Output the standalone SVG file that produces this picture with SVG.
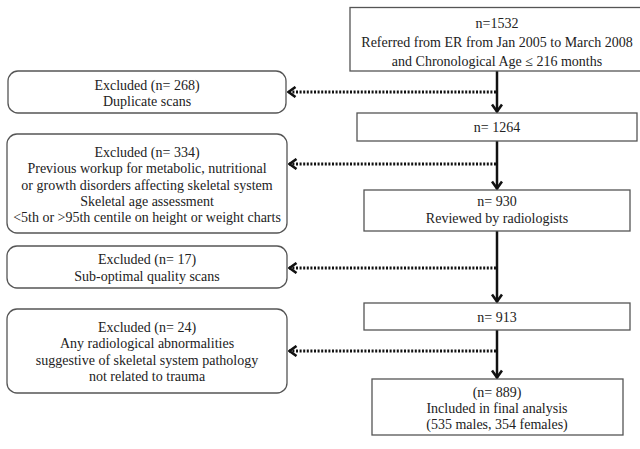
<svg xmlns="http://www.w3.org/2000/svg" width="640" height="449" viewBox="0 0 640 449">
<style>
.box{fill:#fff;stroke:#555;stroke-width:1.3}
.t{font-family:"Liberation Serif","Times New Roman",serif;font-size:14px;fill:#222;text-anchor:middle}
.solid{stroke:#111;stroke-width:2.5;fill:none}
.dot{stroke:#111;stroke-width:3;stroke-dasharray:2 1.6;fill:none}
</style>
<defs>
<marker id="ah" viewBox="0 0 10 12" refX="9" refY="6" markerWidth="10" markerHeight="12" markerUnits="userSpaceOnUse" orient="auto">
<path d="M1.5,1 L8.5,6 L1.5,11" fill="none" stroke="#111" stroke-width="2.6" stroke-dasharray="none"/>
</marker>
</defs>
<rect width="640" height="449" fill="#fff"/>
<g id="connectors">
<line class="solid" x1="497" y1="71" x2="497" y2="112" marker-end="url(#ah)"/>
<line class="solid" x1="497" y1="141" x2="497" y2="189" marker-end="url(#ah)"/>
<line class="solid" x1="497" y1="231" x2="497" y2="302" marker-end="url(#ah)"/>
<line class="solid" x1="497" y1="330" x2="497" y2="378" marker-end="url(#ah)"/>
<line class="dot" x1="496" y1="92" x2="288" y2="92" marker-end="url(#ah)"/>
<line class="dot" x1="496" y1="164" x2="289" y2="164" marker-end="url(#ah)"/>
<line class="dot" x1="496" y1="268" x2="289" y2="268" marker-end="url(#ah)"/>
<line class="dot" x1="496" y1="351" x2="289" y2="351" marker-end="url(#ah)"/>
</g>
<g id="n1532">
<rect class="box" x="350" y="7.5" width="300" height="63.5"/>
<text class="t" x="497" y="27.5">n=1532</text>
<text class="t" x="497" y="46.5">Referred from ER from Jan 2005 to March 2008</text>
<text class="t" x="497" y="66">and Chronological Age ≤ 216 months</text>
</g>
<g id="n1264">
<rect class="box" x="357" y="113" width="280" height="28"/>
<text class="t" x="497" y="131.5">n= 1264</text>
</g>
<g id="n930">
<rect class="box" x="364" y="190" width="266" height="41"/>
<text class="t" x="497" y="206">n= 930</text>
<text class="t" x="497" y="223">Reviewed by radiologists</text>
</g>
<g id="n913">
<rect class="box" x="364" y="303" width="266" height="27"/>
<text class="t" x="497" y="321.5">n= 913</text>
</g>
<g id="n889">
<rect class="box" x="372" y="379" width="251" height="56"/>
<text class="t" x="497" y="396.5">(n= 889)</text>
<text class="t" x="497" y="412.5">Included in final analysis</text>
<text class="t" x="497" y="428.5">(535 males, 354 females)</text>
</g>
<g id="ex268">
<rect class="box" x="8" y="71" width="278" height="42" rx="10"/>
<text class="t" x="147" y="89.5">Excluded (n= 268)</text>
<text class="t" x="147" y="105.5">Duplicate scans</text>
</g>
<g id="ex334">
<rect class="box" x="7" y="134" width="280" height="99" rx="10"/>
<text class="t" x="147" y="156.5">Excluded (n= 334)</text>
<text class="t" x="147" y="173">Previous workup for metabolic, nutritional</text>
<text class="t" x="147" y="189.5">or growth disorders affecting skeletal system</text>
<text class="t" x="147" y="206">Skeletal age assessment</text>
<text class="t" x="147" y="222">&lt;5th or &gt;95th centile on height or weight charts</text>
</g>
<g id="ex17">
<rect class="box" x="7" y="246" width="280" height="42" rx="10"/>
<text class="t" x="147" y="264">Excluded (n= 17)</text>
<text class="t" x="147" y="280.5">Sub-optimal quality scans</text>
</g>
<g id="ex24">
<rect class="box" x="7" y="309" width="280" height="84" rx="10"/>
<text class="t" x="147" y="331.5">Excluded (n= 24)</text>
<text class="t" x="147" y="348">Any radiological abnormalities</text>
<text class="t" x="147" y="364.5">suggestive of skeletal system pathology</text>
<text class="t" x="147" y="380.5">not related to trauma</text>
</g>
</svg>
